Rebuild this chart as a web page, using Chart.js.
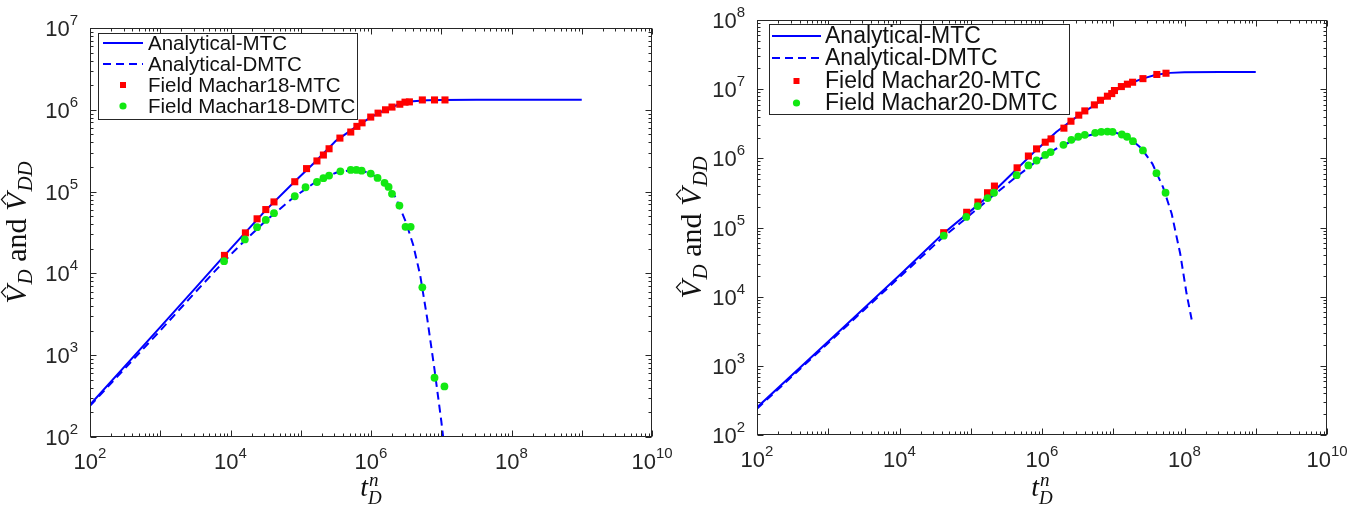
<!DOCTYPE html>
<html>
<head>
<meta charset="utf-8">
<script src="https://cdn.jsdelivr.net/npm/chart.js@4.4.1/dist/chart.umd.min.js"></script>
<style>
  body { margin: 0; background: #fff; width: 1361px; height: 508px; overflow: hidden; position: relative; }
  canvas { position: absolute; top: 0; }
  #machar18 { left: 0; }
  #machar20 { left: 670px; }
</style>
</head>
<body>
<canvas id="machar18" width="680" height="508"></canvas>
<canvas id="machar20" width="691" height="508"></canvas>
<script>
// ---- Machar18 ----
const tAnalytic18 = [1e2, 1e3, 3.16e3, 7.94e3, 1.585e4, 3.16e4, 7.94e4, 1.585e5, 3.16e5, 6.31e5, 1e6, 1.585e6, 2.51e6, 3.98e6, 6.31e6, 1e7, 3.16e7, 1e8, 1e9];
const vdAnalytic18 = [248, 2200, 6600, 1.6e4, 3.09e4, 5.89e4, 1.29e5, 2.29e5, 4.17e5, 6.31e5, 8.13e5, 1.0e6, 1.17e6, 1.27e6, 1.31e6, 1.32e6, 1.33e6, 1.33e6, 1.33e6];
const tDecline18 = [1e2, 1e3, 3.16e3, 7.94e3, 1.585e4, 3.16e4, 7.94e4, 1.585e5, 3.16e5, 5.01e5, 7.08e5, 1e6, 1.585e6, 2.24e6, 3.16e6, 3.98e6, 5.01e6, 6.31e6, 7.94e6, 1e7, 1.1e7];
const vddDecline18 = [240, 2000, 5890, 1.38e4, 2.51e4, 4.37e4, 8.51e4, 1.29e5, 1.70e5, 1.82e5, 1.82e5, 1.66e5, 1.26e5, 8.51e4, 4.17e4, 2.24e4, 9550, 2820, 708, 158, 79];

const tField18Mtc = [8.2e3, 1.63e4, 2.39e4, 3.18e4, 4.16e4, 8.22e4, 1.21e5, 1.70e5, 2.10e5, 2.53e5, 3.61e5, 5.15e5, 6.30e5, 7.46e5, 9.91e5, 1.26e6, 1.61e6, 1.99e6, 2.57e6, 3.05e6, 3.52e6, 5.38e6, 8.02e6, 1.13e7];
const vField18Mtc = [1.66e4, 3.13e4, 4.65e4, 6.03e4, 7.48e4, 1.32e5, 1.91e5, 2.37e5, 2.80e5, 3.34e5, 4.51e5, 5.35e5, 6.27e5, 6.93e5, 8.15e5, 9.10e5, 1.00e6, 1.08e6, 1.17e6, 1.24e6, 1.25e6, 1.32e6, 1.32e6, 1.32e6];
const tField18Dmtc = [8.1e3, 1.60e4, 2.39e4, 3.18e4, 4.16e4, 8.22e4, 1.17e5, 1.70e5, 2.10e5, 2.53e5, 3.66e5, 5.15e5, 6.19e5, 7.36e5, 9.91e5, 1.24e6, 1.56e6, 1.78e6, 1.99e6, 2.54e6, 3.10e6, 3.67e6, 5.38e6, 8.02e6, 1.11e7];
const vField18Dmtc = [1.41e4, 2.60e4, 3.67e4, 4.51e4, 5.45e4, 8.77e4, 1.13e5, 1.31e5, 1.46e5, 1.57e5, 1.77e5, 1.84e5, 1.84e5, 1.80e5, 1.66e5, 1.47e5, 1.28e5, 1.14e5, 9.38e4, 6.75e4, 3.71e4, 3.71e4, 6750, 530, 415];

// ---- Machar20 ----
const tAnalytic20 = [1e2, 1e3, 1e4, 3.98e4, 1e5, 2e5, 3.98e5, 7.94e5, 1.585e6, 3.16e6, 6.31e6, 1e7, 1.585e7, 2.51e7, 3.98e7, 6.31e7, 1e8, 3.16e8, 1e9];
const vdAnalytic20 = [250, 2240, 2.04e4, 7.94e4, 1.74e5, 3.16e5, 6.31e5, 1.26e6, 2.40e6, 4.07e6, 6.46e6, 9.12e6, 1.17e7, 1.41e7, 1.62e7, 1.72e7, 1.76e7, 1.77e7, 1.77e7];
const tDecline20 = [1e2, 1e3, 1e4, 3.98e4, 1e5, 2e5, 3.98e5, 7.94e5, 1.585e6, 3.16e6, 6.31e6, 1e7, 1.585e7, 2.51e7, 3.55e7, 5.01e7, 6.61e7, 8.71e7, 1.07e8, 1.26e8];
const vddDecline20 = [240, 2140, 1.91e4, 7.08e4, 1.55e5, 2.82e5, 5.01e5, 8.71e5, 1.38e6, 1.95e6, 2.34e6, 2.40e6, 2.09e6, 1.38e6, 8.32e5, 3.80e5, 1.58e5, 4.17e4, 1.10e4, 4680];

const tField20Mtc = [4.17e4, 8.77e4, 1.26e5, 1.72e5, 2.15e5, 4.47e5, 6.44e5, 8.39e5, 1.11e6, 1.34e6, 2.03e6, 2.55e6, 3.28e6, 3.99e6, 5.43e6, 6.61e6, 8.28e6, 9.53e6, 1.04e7, 1.30e7, 1.58e7, 1.87e7, 2.61e7, 4.09e7, 5.50e7];
const vField20Mtc = [8.41e4, 1.66e5, 2.33e5, 3.18e5, 3.97e5, 7.29e5, 1.08e6, 1.37e6, 1.71e6, 1.91e6, 2.73e6, 3.44e6, 4.21e6, 4.85e6, 5.93e6, 6.92e6, 7.91e6, 8.63e6, 9.55e6, 1.09e7, 1.18e7, 1.26e7, 1.42e7, 1.63e7, 1.70e7];
const tField20Dmtc = [4.17e4, 8.65e4, 1.25e5, 1.72e5, 2.12e5, 4.41e5, 6.44e5, 8.39e5, 1.11e6, 1.32e6, 2.00e6, 2.58e6, 3.23e6, 3.99e6, 5.58e6, 6.79e6, 8.28e6, 9.79e6, 1.32e7, 1.56e7, 1.89e7, 2.61e7, 4.04e7, 5.42e7];
const vField20Dmtc = [7.62e4, 1.42e5, 2.04e5, 2.66e5, 3.18e5, 5.71e5, 7.89e5, 9.31e5, 1.12e6, 1.23e6, 1.57e6, 1.85e6, 2.05e6, 2.19e6, 2.34e6, 2.42e6, 2.44e6, 2.42e6, 2.21e6, 2.05e6, 1.77e6, 1.30e6, 6.11e5, 3.18e5];

// axis decades (tick labels are 10^n)
const xDecades = [2, 4, 6, 8, 10];
const yDecades18 = [2, 3, 4, 5, 6, 7];
const yDecades20 = [2, 3, 4, 5, 6, 7, 8];

const labels18 = ['Analytical-MTC', 'Analytical-DMTC', 'Field Machar18-MTC', 'Field Machar18-DMTC'];
const labels20 = ['Analytical-MTC', 'Analytical-DMTC', 'Field Machar20-MTC', 'Field Machar20-DMTC'];

const INK = '#262626';
const SANS = '"Liberation Sans", Arial, Helvetica, sans-serif';
const SERIF = '"Liberation Serif", "Times New Roman", serif';
const BLUE = '#0000ff';
const RED = '#ff0000';
const GREEN = '#12e812';

function pts(xs, ys) {
  return xs.map((x, i) => ({x: x, y: ys[i]}));
}

// "10" with a raised exponent
function powerLabel(ctx, exp, x, y, align) {
  ctx.font = '22px ' + SANS;
  const wb = ctx.measureText('10').width;
  ctx.font = '15px ' + SANS;
  const ws = ctx.measureText(String(exp)).width;
  const x0 = align === 'center' ? x - (wb + ws) / 2 : x - (wb + ws);
  ctx.font = '22px ' + SANS;
  ctx.fillText('10', x0, y);
  ctx.font = '15px ' + SANS;
  ctx.fillText(String(exp), x0 + wb, y - 11);
}

// runs of text with their own font and vertical shift, centred on 0
function drawRuns(ctx, runs) {
  let total = 0;
  runs.forEach(r => { ctx.font = r.font; r.w = ctx.measureText(r.text).width; total += r.w + (r.gap || 0); });
  let x = -total / 2;
  runs.forEach(r => {
    ctx.font = r.font;
    ctx.fillText(r.text, x, r.dy || 0);
    if (r.hat) {
      const cx = x + r.w * 0.62;
      ctx.beginPath();
      ctx.moveTo(cx - 5, -20);
      ctx.lineTo(cx, -24.5);
      ctx.lineTo(cx + 5, -20);
      ctx.lineWidth = 1.3;
      ctx.stroke();
    }
    x += r.w + (r.gap || 0);
  });
}

function frameAndText(s) {
  return {
    id: 'frameAndText',
    afterDraw(chart) {
      const {ctx, chartArea: a, scales: {x, y}} = chart;
      const L = Math.round(a.left) + 0.5, R = Math.round(a.right) - 0.5;
      const T = Math.round(a.top) + 0.5, B = Math.round(a.bottom) - 0.5;
      ctx.save();
      ctx.strokeStyle = INK;
      ctx.fillStyle = INK;
      ctx.lineWidth = 1;
      ctx.setLineDash([]);

      // inward ticks on all four sides
      ctx.beginPath();
      for (let d = 2; d <= 10; d++) {
        for (let k = 1; k <= 9; k++) {
          const v = k * Math.pow(10, d);
          if (v > x.max) break;
          const len = k === 1 ? 6 : 3;
          const px = Math.round(x.getPixelForValue(v)) + 0.5;
          ctx.moveTo(px, B); ctx.lineTo(px, B - len);
          ctx.moveTo(px, T); ctx.lineTo(px, T + len);
        }
      }
      for (let d = 2; d <= s.yTop; d++) {
        for (let k = 1; k <= 9; k++) {
          const v = k * Math.pow(10, d);
          if (v > y.max) break;
          const len = k === 1 ? 6 : 3;
          const py = Math.round(y.getPixelForValue(v)) + 0.5;
          ctx.moveTo(L, py); ctx.lineTo(L + len, py);
          ctx.moveTo(R, py); ctx.lineTo(R - len, py);
        }
      }
      ctx.stroke();
      ctx.strokeRect(L, T, R - L, B - T);

      // tick labels
      ctx.textAlign = 'left';
      ctx.textBaseline = 'alphabetic';
      xDecades.forEach(e => powerLabel(ctx, e, x.getPixelForValue(Math.pow(10, e)), a.bottom + 32, 'center'));
      s.yDecades.forEach(e => powerLabel(ctx, e, a.left - 12, y.getPixelForValue(Math.pow(10, e)) + 8, 'right'));

      // axis titles
      ctx.fillStyle = '#111';
      ctx.strokeStyle = '#111';
      ctx.save();
      ctx.translate(s.yTitleX, (a.top + a.bottom) / 2);
      ctx.rotate(-Math.PI / 2);
      drawRuns(ctx, [
        {text: 'V', font: 'italic 30px ' + SERIF, hat: true, gap: 1},
        {text: 'D', font: 'italic 21px ' + SERIF, dy: 6},
        {text: ' and ', font: '30px ' + SERIF},
        {text: 'V', font: 'italic 30px ' + SERIF, hat: true, gap: 1},
        {text: 'DD', font: 'italic 21px ' + SERIF, dy: 6}
      ]);
      ctx.restore();

      ctx.save();
      ctx.translate((a.left + a.right) / 2, s.xTitleY);
      ctx.font = 'italic 28px ' + SERIF;
      const wt = ctx.measureText('t').width;
      ctx.font = 'italic 19px ' + SERIF;
      const wd = ctx.measureText('D').width;
      const x0 = -(wt + wd) / 2;
      ctx.font = 'italic 28px ' + SERIF;
      ctx.fillText('t', x0, 0);
      ctx.font = 'italic 19px ' + SERIF;
      ctx.fillText('n', x0 + wt + 1, -10);
      ctx.fillText('D', x0 + wt, 8);
      ctx.restore();

      // legend
      const g = s.legend;
      ctx.fillStyle = '#fff';
      ctx.fillRect(g.x0, g.y0, g.x1 - g.x0, g.y1 - g.y0);
      ctx.strokeStyle = INK;
      ctx.lineWidth = 1;
      ctx.strokeRect(g.x0 + 0.5, g.y0 + 0.5, g.x1 - g.x0, g.y1 - g.y0);
      chart.data.datasets.forEach((ds, i) => {
        const base = g.rows[i];
        const cy = base - 7;
        if (ds.showLine) {
          ctx.strokeStyle = ds.borderColor;
          ctx.lineWidth = ds.borderWidth;
          ctx.setLineDash(ds.borderDash || []);
          ctx.beginPath();
          ctx.moveTo(g.lineX0, cy);
          ctx.lineTo(g.lineX1, cy);
          ctx.stroke();
          ctx.setLineDash([]);
        } else {
          const mx = (g.lineX0 + g.lineX1) / 2;
          ctx.fillStyle = ds.pointBackgroundColor;
          ctx.beginPath();
          if (ds.pointStyle === 'rect') ctx.rect(mx - 3, cy - 3, 6, 6);
          else ctx.arc(mx, cy, 3.6, 0, Math.PI * 2);
          ctx.fill();
        }
        ctx.fillStyle = '#111';
        ctx.font = g.font + 'px ' + SANS;
        ctx.fillText(ds.label, g.textX, base);
      });
      ctx.restore();
    }
  };
}

function makeChart(id, d, s) {
  return new Chart(document.getElementById(id), {
    type: 'scatter',
    data: {
      datasets: [
        {label: d.labels[0], data: pts(d.tMtc, d.vMtc), showLine: true, borderColor: BLUE, borderWidth: 2,
         pointRadius: 0, order: 3},
        {label: d.labels[1], data: pts(d.tDmtc, d.vDmtc), showLine: true, borderColor: BLUE, borderWidth: 2,
         borderDash: [8, 5], pointRadius: 0, order: 2},
        {label: d.labels[2], data: pts(d.tFieldMtc, d.vFieldMtc), pointStyle: 'rect', pointRadius: 5,
         pointBackgroundColor: RED, pointBorderWidth: 0, backgroundColor: RED, borderColor: RED, order: 1},
        {label: d.labels[3], data: pts(d.tFieldDmtc, d.vFieldDmtc), pointStyle: 'circle', pointRadius: 3.9,
         pointBackgroundColor: GREEN, pointBorderWidth: 0, backgroundColor: GREEN, borderColor: GREEN, order: 0}
      ]
    },
    options: {
      responsive: false,
      animation: false,
      events: [],
      layout: {padding: s.padding},
      plugins: {legend: {display: false}, tooltip: {enabled: false}},
      scales: {
        x: {type: 'logarithmic', min: 1e2, max: 1e10, display: false},
        y: {type: 'logarithmic', min: 1e2, max: Math.pow(10, s.yTop), display: false}
      }
    },
    plugins: [frameAndText(s)]
  });
}

makeChart('machar18', {
  labels: labels18,
  tMtc: tAnalytic18, vMtc: vdAnalytic18,
  tDmtc: tDecline18, vDmtc: vddDecline18,
  tFieldMtc: tField18Mtc, vFieldMtc: vField18Mtc,
  tFieldDmtc: tField18Dmtc, vFieldDmtc: vField18Dmtc
}, {
  padding: {left: 90, right: 28, top: 28, bottom: 71},
  yTop: 7,
  yDecades: yDecades18,
  yTitleX: 26,
  xTitleY: 496,
  legend: {x0: 98, y0: 33, x1: 357, y1: 119, rows: [50, 71, 92, 113], lineX0: 103, lineX1: 143, textX: 148, font: 20.5}
});

makeChart('machar20', {
  labels: labels20,
  tMtc: tAnalytic20, vMtc: vdAnalytic20,
  tDmtc: tDecline20, vDmtc: vddDecline20,
  tFieldMtc: tField20Mtc, vFieldMtc: vField20Mtc,
  tFieldDmtc: tField20Dmtc, vFieldDmtc: vField20Dmtc
}, {
  padding: {left: 87, right: 34, top: 20, bottom: 73},
  yTop: 8,
  yDecades: yDecades20,
  yTitleX: 31,
  xTitleY: 496,
  legend: {x0: 99, y0: 24, x1: 399, y1: 114, rows: [43, 65, 88, 110], lineX0: 102, lineX1: 151, textX: 155, font: 23}
});
</script>
</body>
</html>
